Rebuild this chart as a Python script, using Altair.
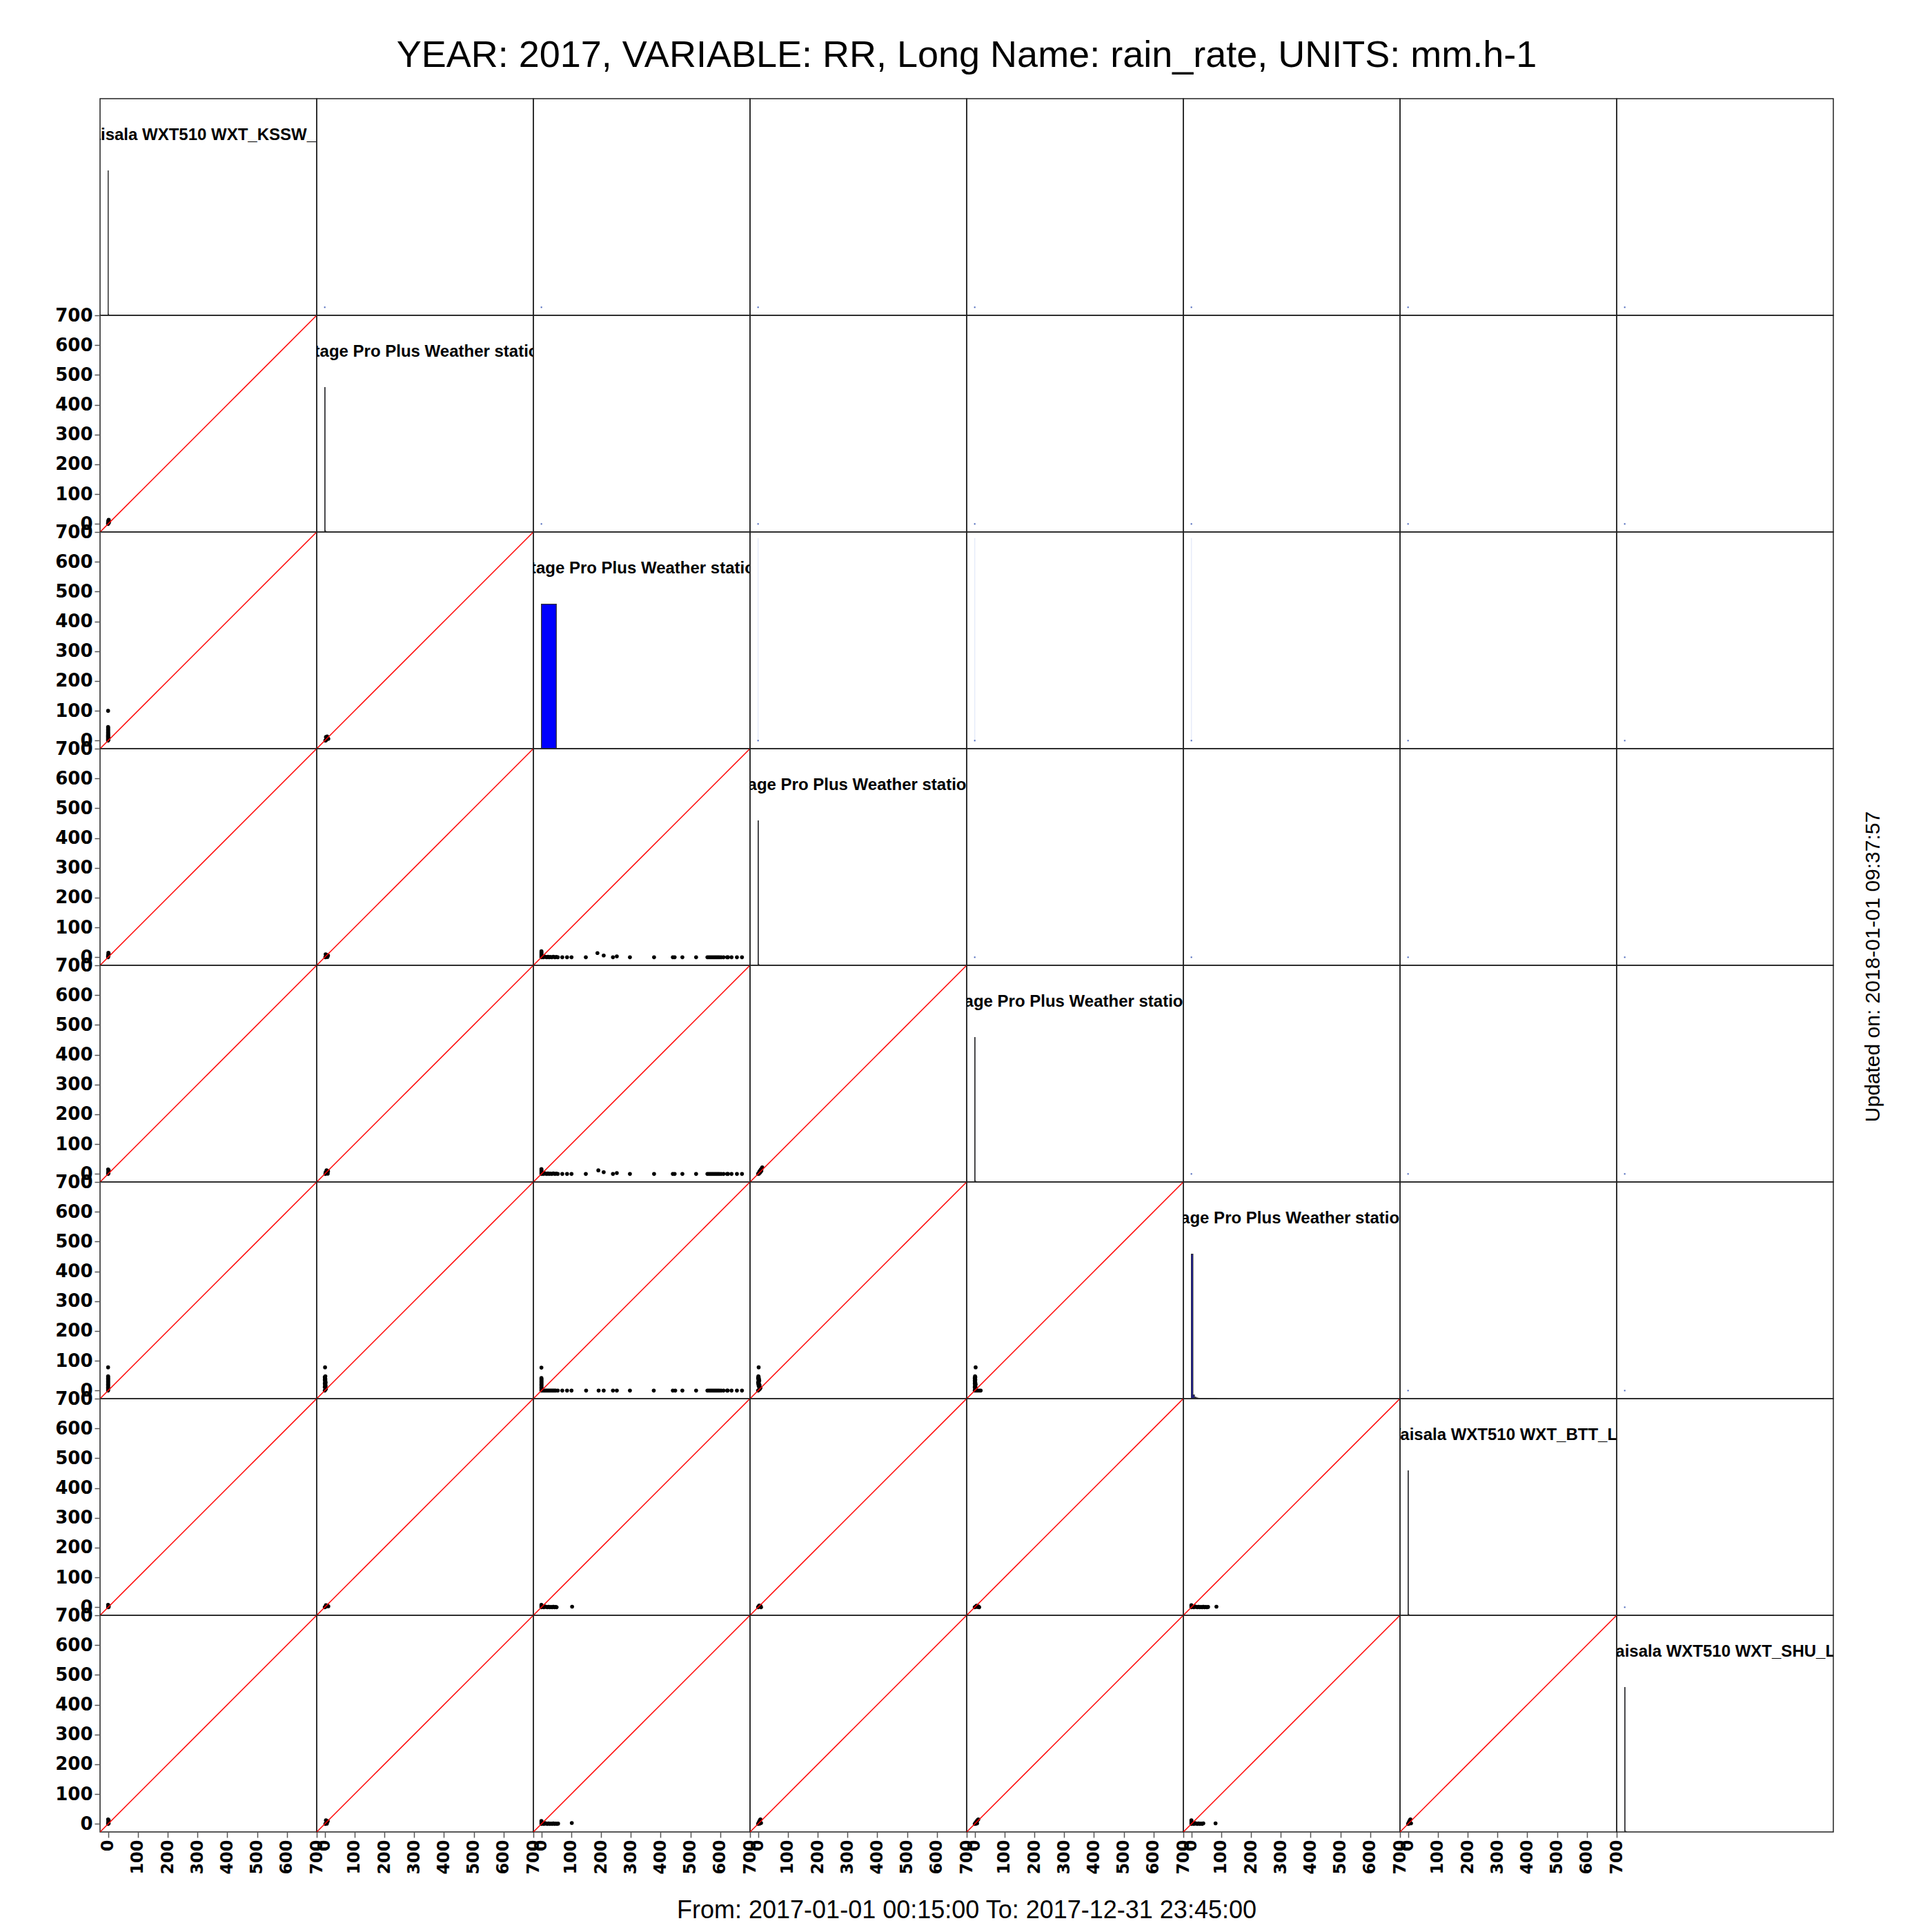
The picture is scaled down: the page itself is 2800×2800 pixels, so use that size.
import altair as alt
import pandas as pd

FONT = "Liberation Sans"
AXIS_FONT = "DejaVu Sans"
PANEL = 314
DOMAIN = [-27, 700]
TICKS = [0, 100, 200, 300, 400, 500, 600, 700]
ABLINE = [-27, 700]

TITLE = "YEAR: 2017, VARIABLE: RR, Long Name: rain_rate, UNITS: mm.h-1"
FOOTER = "From: 2017-01-01 00:15:00 To: 2017-12-31 23:45:00"
UPDATED = "Updated on: 2018-01-01 09:37:57"

STATIONS = [
    "Vaisala WXT510 WXT_KSSW_L1",
    "Davis Vantage Pro Plus Weather station (KSSW)",
    "Davis Vantage Pro Plus Weather station (BRSW)",
    "Davis Vantage Pro Plus Weather station (BGSW1)",
    "Davis Vantage Pro Plus Weather station (BGSW2)",
    "Davis Vantage Pro Plus Weather station (MERW1)",
    "Vaisala WXT510 WXT_BTT_L1",
    "Vaisala WXT510 WXT_SHU_L1",
]

# histogram bins (edges) and counts for each station (diagonal panels)
H1_EDGES = [0, 0.5, 1, 1.5, 2, 2.5, 3]
H1_COUNTS = [33000, 250, 120, 60, 30, 15]
H2_EDGES = [0, 1, 2, 3, 4, 5, 6, 7, 8]
H2_COUNTS = [33500, 300, 150, 80, 40, 20, 10, 5]
H3_EDGES = [0, 50, 100, 150, 200, 250, 300, 350, 400, 450, 500, 550, 600, 650, 700]
H3_COUNTS = [34600, 8, 4, 3, 2, 2, 1, 1, 1, 2, 2, 10, 6, 3]
H4_EDGES = [0, 1, 2, 3, 4, 5, 6]
H4_COUNTS = [33800, 250, 110, 50, 20, 8]
H5_EDGES = [0, 1, 2, 3, 4, 5, 6]
H5_COUNTS = [33700, 260, 120, 55, 25, 10]
H6_EDGES = [0, 5, 10, 15, 20, 25, 30, 35, 40, 45, 50, 55, 60, 65, 70, 75, 80, 85]
H6_COUNTS = [31500, 800, 300, 150, 80, 50, 30, 20, 12, 8, 6, 4, 3, 2, 2, 1, 1]
H7_EDGES = [0, 1, 2, 3, 4, 5, 6]
H7_COUNTS = [33900, 220, 100, 40, 15, 5]
H8_EDGES = [0, 1, 2, 3, 4, 5, 6]
H8_COUNTS = [33850, 230, 105, 45, 18, 6]

# scatter points (x = column station, y = row station) for lower panels
P21 = [(0, 0), (0, 2), (0, 4), (1, 6), (1, 8), (1, 10), (2, 12), (2, 14), (1, 3), (3, 5)]
P31 = [(0, 0), (0, 2), (0, 4), (0, 6), (0, 8), (0, 10), (0, 12), (0, 14), (0, 16), (0, 18),
       (0, 20), (0, 22), (0, 25), (0, 28), (0, 31), (0, 34), (0, 37), (0, 40), (0, 43), (0, 46),
       (1, 3), (1, 9), (0, 100)]
P32 = [(2, 0), (4, 2), (6, 4), (8, 6), (10, 8), (6, 10), (4, 12), (8, 14), (12, 6), (3, 1)]
P41 = [(0, 0), (0, 3), (1, 6), (1, 9), (2, 12), (1, 15), (0, 5)]
P42 = [(2, 0), (5, 2), (8, 4), (11, 6), (6, 8), (3, 10), (9, 1)]
P43 = [(0, 0), (0, 4), (0, 8), (0, 12), (0, 16), (0, 20), (3, 2), (6, 0), (10, 3), (14, 1),
       (18, 0), (22, 2), (26, 0), (30, 1), (35, 0), (40, 2), (45, 0), (50, 1), (55, 0), (70, 0),
       (86, 0), (101, 0), (149, 0), (188, 14), (209, 6), (240, 0), (253, 3), (297, 0), (378, 0),
       (441, 0), (447, 0), (473, 0), (519, 0), (557, 0), (562, 0), (567, 0), (572, 0), (577, 0),
       (582, 0), (587, 0), (592, 0), (597, 0), (603, 0), (611, 0), (623, 0), (626, 0), (638, 0),
       (656, 0), (673, 0)]
P51 = [(0, 0), (0, 3), (1, 6), (1, 9), (2, 12), (0, 15), (1, 2)]
P52 = [(2, 0), (5, 3), (8, 6), (11, 9), (6, 12), (3, 5), (10, 1)]
P53 = [(0, 0), (0, 4), (0, 8), (0, 12), (0, 16), (3, 2), (6, 0), (10, 3), (14, 1),
       (18, 0), (22, 2), (26, 0), (30, 1), (35, 0), (40, 2), (45, 0), (50, 1), (55, 0), (70, 0),
       (86, 0), (101, 0), (149, 0), (191, 12), (209, 6), (240, 0), (253, 3), (297, 0), (378, 0),
       (441, 0), (447, 0), (473, 0), (519, 0), (557, 0), (562, 0), (567, 0), (572, 0), (577, 0),
       (582, 0), (587, 0), (592, 0), (597, 0), (603, 0), (611, 0), (623, 0), (626, 0), (638, 0),
       (656, 0), (673, 0)]
P54 = [(0, 0), (2, 3), (4, 6), (6, 9), (8, 12), (10, 15), (12, 18), (14, 22), (3, 1), (7, 5),
       (11, 10), (5, 8), (9, 14)]
P61 = [(0, 0), (0, 3), (0, 6), (0, 9), (0, 12), (0, 15), (0, 18), (0, 21), (0, 24), (0, 27),
       (0, 30), (0, 33), (0, 36), (0, 39), (0, 42), (0, 45), (0, 48), (0, 78)]
P62 = [(0, 0), (2, 3), (4, 6), (2, 9), (0, 12), (3, 15), (1, 18), (2, 21), (0, 24), (3, 27),
       (1, 30), (2, 33), (0, 36), (2, 39), (1, 42), (0, 45), (2, 48), (1, 78)]
P63 = [(0, 0), (0, 3), (0, 6), (0, 9), (0, 12), (0, 15), (0, 18), (0, 21), (0, 24), (0, 27),
       (0, 30), (0, 33), (0, 36), (0, 39), (0, 42), (0, 77), (4, 0), (8, 0), (12, 0), (16, 0),
       (20, 0), (24, 0), (28, 0), (32, 0), (36, 0), (40, 0), (44, 0), (48, 0), (55, 0), (70, 0),
       (86, 0), (101, 0), (150, 0), (192, 0), (209, 0), (240, 0), (253, 0), (297, 0), (377, 0),
       (441, 0), (449, 0), (473, 0), (519, 0), (557, 0), (562, 0), (567, 0), (572, 0), (577, 0),
       (582, 0), (587, 0), (592, 0), (597, 0), (603, 0), (611, 0), (623, 0), (625, 0), (638, 0),
       (656, 0), (673, 0)]
P64 = [(0, 0), (3, 3), (6, 6), (8, 9), (4, 12), (2, 15), (5, 18), (1, 21), (3, 24), (0, 27),
       (2, 30), (4, 33), (1, 36), (3, 39), (0, 42), (2, 45), (1, 48), (2, 78)]
P65 = [(0, 0), (5, 0), (10, 0), (15, 0), (20, 0), (2, 3), (1, 6), (3, 9), (0, 12), (2, 15),
       (1, 18), (3, 21), (0, 24), (2, 27), (1, 30), (0, 33), (2, 36), (1, 39), (0, 42), (2, 45),
       (1, 48), (3, 78)]
P71 = [(0, 0), (1, 2), (2, 4), (1, 6), (0, 8), (2, 1)]
P72 = [(0, 0), (3, 2), (6, 4), (9, 6), (12, 3), (4, 7)]
P73 = [(0, 0), (0, 3), (0, 6), (0, 8), (4, 2), (8, 0), (12, 3), (16, 1), (20, 0), (24, 2),
       (28, 0), (32, 1), (36, 0), (40, 2), (44, 0), (48, 1), (51, 0), (103, 2)]
P74 = [(0, 0), (2, 3), (4, 6), (6, 2), (8, 4), (10, 0)]
P75 = [(0, 0), (3, 2), (6, 5), (9, 1), (12, 3), (15, 0)]
P76 = [(0, 0), (0, 4), (0, 7), (4, 2), (8, 0), (12, 3), (16, 1), (20, 0), (24, 2), (28, 0),
       (32, 1), (36, 0), (40, 2), (44, 0), (48, 1), (52, 0), (56, 1), (84, 2)]
P81 = [(0, 0), (0, 3), (1, 6), (1, 9), (2, 12), (0, 15), (2, 2)]
P82 = [(2, 0), (5, 3), (8, 6), (10, 9), (4, 12), (7, 1)]
P83 = [(0, 0), (0, 4), (0, 8), (0, 10), (4, 2), (8, 0), (12, 3), (16, 1), (20, 0), (24, 2),
       (28, 0), (32, 1), (36, 0), (40, 2), (44, 0), (48, 1), (52, 0), (56, 1), (102, 3)]
P84 = [(0, 0), (2, 4), (4, 8), (6, 12), (8, 15), (10, 3), (5, 1)]
P85 = [(0, 0), (3, 4), (6, 8), (9, 12), (12, 15), (4, 1), (8, 2)]
P86 = [(0, 0), (0, 4), (0, 8), (0, 12), (4, 2), (8, 0), (12, 3), (16, 1), (20, 0), (24, 2),
       (28, 0), (32, 1), (36, 0), (40, 2), (81, 2)]
P87 = [(0, 0), (2, 4), (4, 8), (6, 12), (8, 15), (10, 2), (3, 1)]

# tiny density marks of the upper panels, and faint columns in a few of them
UPPER_DOT = [(0, 0)]
FAINT_PANELS = [(3, 4), (3, 5), (3, 6)]
FAINT_TOP = [680, 680, 680]

HISTS = [
    (H1_EDGES, H1_COUNTS), (H2_EDGES, H2_COUNTS), (H3_EDGES, H3_COUNTS), (H4_EDGES, H4_COUNTS),
    (H5_EDGES, H5_COUNTS), (H6_EDGES, H6_COUNTS), (H7_EDGES, H7_COUNTS), (H8_EDGES, H8_COUNTS),
]
LOWER = {
    (2, 1): P21, (3, 1): P31, (3, 2): P32, (4, 1): P41, (4, 2): P42, (4, 3): P43,
    (5, 1): P51, (5, 2): P52, (5, 3): P53, (5, 4): P54,
    (6, 1): P61, (6, 2): P62, (6, 3): P63, (6, 4): P64, (6, 5): P65,
    (7, 1): P71, (7, 2): P72, (7, 3): P73, (7, 4): P74, (7, 5): P75, (7, 6): P76,
    (8, 1): P81, (8, 2): P82, (8, 3): P83, (8, 4): P84, (8, 5): P85, (8, 6): P86, (8, 7): P87,
}


def sc():
    return alt.Scale(domain=DOMAIN, nice=False, zero=False)


def x_enc(field, show):
    if show:
        ax = alt.Axis(values=TICKS, labelAngle=270, labelAlign="right",
                      labelBaseline="middle", labelFontSize=24, title=None)
    else:
        ax = None
    return alt.X(field, type="quantitative", scale=sc(), axis=ax)


def y_enc(field, show):
    ax = alt.Axis(values=TICKS, labelFontSize=26, title=None) if show else None
    return alt.Y(field, type="quantitative", scale=sc(), axis=ax)


def text_layer(txt, x, y, size, weight="normal", angle=0, clip=False, baseline="middle"):
    return alt.Chart(pd.DataFrame({"t": [txt]})).mark_text(
        font=FONT, fontSize=size, fontWeight=weight, color="black", align="center",
        baseline=baseline, angle=angle, clip=clip
    ).encode(x=alt.value(x), y=alt.value(y), text="t:N")


panels = []
for r in range(1, 9):
    for c in range(1, 9):
        layers = []
        showx = (r == 8 and c < 8)
        showy = (c == 1 and r > 1)
        if r > c:
            df = pd.DataFrame(LOWER[(r, c)], columns=["x", "y"])
            layers.append(alt.Chart(df).mark_circle(size=32, color="black", opacity=1, clip=True)
                          .encode(x=x_enc("x", showx), y=y_enc("y", showy)))
            ldf = pd.DataFrame({"x": ABLINE, "y": ABLINE})
            layers.append(alt.Chart(ldf).mark_line(color="red", strokeWidth=1.5, clip=True)
                          .encode(x=x_enc("x", showx), y=y_enc("y", showy)))
        elif r == c:
            edges, counts = HISTS[r - 1]
            hdf = pd.DataFrame({"start": edges[:-1], "end": edges[1:], "count": counts})
            layers.append(
                alt.Chart(hdf)
                .transform_joinaggregate(mx="max(count)")
                .transform_calculate(h="datum.count / datum.mx", base="0")
                .mark_rect(fill="#0000ff", stroke="#333333", strokeWidth=1.3, clip=True)
                .encode(
                    x=alt.X("start:Q", scale=sc(), axis=None),
                    x2="end:Q",
                    y=alt.Y("h:Q", scale=alt.Scale(domain=[0, 1.5], nice=False, zero=False), axis=None),
                    y2="base:Q",
                )
            )
            layers.append(text_layer(STATIONS[r - 1], PANEL / 2, 60, 24, weight="bold",
                                     clip=True, baseline="alphabetic"))
        else:
            udf = pd.DataFrame(UPPER_DOT, columns=["x", "y"])
            if (r, c) in FAINT_PANELS:
                top = FAINT_TOP[FAINT_PANELS.index((r, c))]
                fdf = pd.DataFrame({"x": [0], "y": [0], "y2": [top]})
                layers.append(alt.Chart(fdf).mark_rule(color="#3366cc", opacity=0.12, strokeWidth=1.5, clip=True)
                              .encode(x=x_enc("x", False), y=y_enc("y", False), y2="y2:Q"))
            layers.append(alt.Chart(udf).mark_square(size=4, color="#3050b0", opacity=0.9, clip=True)
                          .encode(x=x_enc("x", False), y=y_enc("y", False)))
        if r == 1 and c == 1:
            layers.append(text_layer(TITLE, 4 * PANEL, -62, 54))
        if r == 8 and c == 1:
            layers.append(text_layer(FOOTER, 4 * PANEL, 428, 36))
        if r == 1 and c == 8:
            layers.append(text_layer(UPDATED, 372, 4 * PANEL + 2, 30, angle=270))
        panels.append(alt.layer(*layers).properties(width=PANEL, height=PANEL))

chart = (
    alt.ConcatChart(concat=panels, columns=8, spacing=0, bounds="flush")
    .properties(padding={"left": 70, "top": 45, "right": 20, "bottom": 20}, background="white")
    .configure_view(stroke="#222222", strokeWidth=1.5)
    .configure_axis(
        labelFont=AXIS_FONT, labelFontWeight="bold", labelColor="black",
        tickColor="#555555", tickSize=8, tickWidth=1.5, domain=False, grid=False,
        labelPadding=3, labelFlush=False, labelOverlap=False,
    )
)

chart.save("out.html", embed_options={"renderer": "svg", "actions": False})
